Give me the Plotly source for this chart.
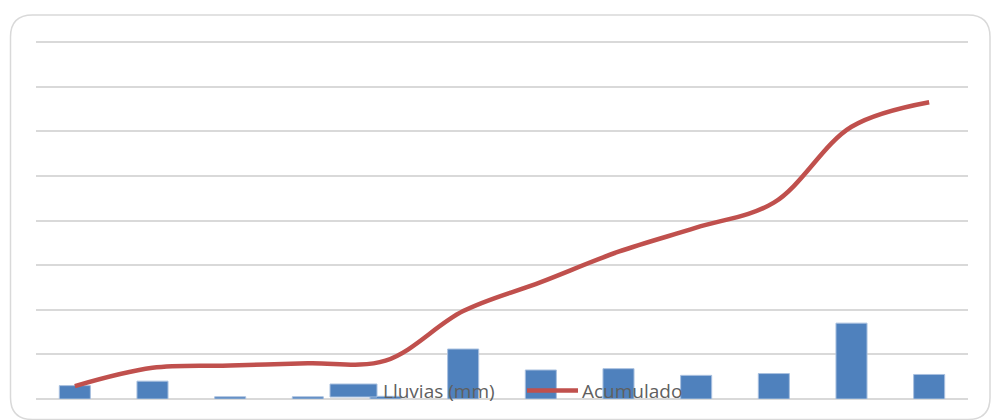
import plotly.graph_objects as go

# ---- data ----
categories = ["Ene", "Feb", "Mar", "Abr", "May", "Jun", "Jul", "Ago", "Sep", "Oct", "Nov", "Dic"]
lluvias = [6.0, 8.0, 1.0, 1.0, 1.2, 22.4, 13.0, 13.6, 10.6, 11.4, 34.0, 11.0]
acumulado = [5.8, 14.0, 15.0, 16.0, 17.2, 39.4, 52.4, 66.0, 76.8, 88.0, 122.0, 133.0]
legend_labels = ["Lluvias (mm)", "Acumulado"]

W, H = 992, 420
ML, MR, MT, MB = 36, 24, 40, 21
PW, PH = W - ML - MR, H - MT - MB
YMAX = 160 * PH / 357.0  # keep top gridline (160) at ~42px, away from plot edge

BAR_BLUE = "#4F81BD"
LINE_RED = "#C0504D"
GRID = "#D9D9D9"


def px2paper(x, y):
    return (x - ML) / PW, (H - MB - y) / PH


fig = go.Figure()
fig.add_trace(go.Bar(
    x=categories, y=lluvias, name=legend_labels[0],
    marker=dict(color=BAR_BLUE, line=dict(color="#A9C0DF", width=1)),
    showlegend=False,
))
fig.add_trace(go.Scatter(
    x=categories, y=acumulado, name=legend_labels[1], mode="lines",
    line=dict(color=LINE_RED, width=4.5, shape="spline", smoothing=1.0),
    showlegend=False,
))

# rounded outer frame (decoration)
x0, y0, x1, y1, r = 10.5, 15.0, 990.0, 419.5, 22.0
def P(x, y):
    a, b = px2paper(x, y)
    return f"{a:.5f},{b:.5f}"
path = (f"M {P(x0 + r, y0)} L {P(x1 - r, y0)} Q {P(x1, y0)} {P(x1, y0 + r)} "
        f"L {P(x1, y1 - r)} Q {P(x1, y1)} {P(x1 - r, y1)} "
        f"L {P(x0 + r, y1)} Q {P(x0, y1)} {P(x0, y1 - r)} "
        f"L {P(x0, y0 + r)} Q {P(x0, y0)} {P(x0 + r, y0)} Z")
shapes = [dict(type="path", xref="paper", yref="paper", path=path,
               line=dict(color="#D9D9D9", width=1.5), layer="below")]

# custom legend (drawn on top of plot)
bx0, by0 = px2paper(330, 397)
bx1, by1 = px2paper(377, 384)
shapes.append(dict(type="rect", xref="paper", yref="paper", x0=bx0, y0=by0, x1=bx1, y1=by1,
                   fillcolor=BAR_BLUE, line=dict(color="#A9C0DF", width=1), layer="above"))
lx0, ly = px2paper(527, 390.5)
lx1, _ = px2paper(578, 390.5)
shapes.append(dict(type="line", xref="paper", yref="paper", x0=lx0, y0=ly, x1=lx1, y1=ly,
                   line=dict(color=LINE_RED, width=4.5), layer="above"))

ann = []
tx, ty = px2paper(381, 390.5)
ann.append(dict(xref="paper", yref="paper", x=tx, y=ty, xanchor="left", yanchor="middle",
                text=legend_labels[0], showarrow=False,
                font=dict(family="Open Sans", size=19, color="#5F5F5F")))
tx, ty = px2paper(580, 390.5)
ann.append(dict(xref="paper", yref="paper", x=tx, y=ty, xanchor="left", yanchor="middle",
                text=legend_labels[1], showarrow=False,
                font=dict(family="Open Sans", size=19, color="#5F5F5F")))

fig.update_layout(
    width=W, height=H,
    margin=dict(l=ML, r=MR, t=MT, b=MB, pad=0),
    paper_bgcolor="white", plot_bgcolor="white",
    bargap=0.6,
    showlegend=False,
    shapes=shapes, annotations=ann,
    xaxis=dict(showticklabels=False, showgrid=False, zeroline=False, showline=False,
               ticks="", range=[-0.5, 11.5]),
    yaxis=dict(range=[0, YMAX], dtick=20, showticklabels=False, showgrid=True,
               gridcolor=GRID, gridwidth=1.5, zeroline=True, zerolinecolor=GRID,
               zerolinewidth=1.5, showline=False, ticks=""),
)

fig.write_html("out.html")
